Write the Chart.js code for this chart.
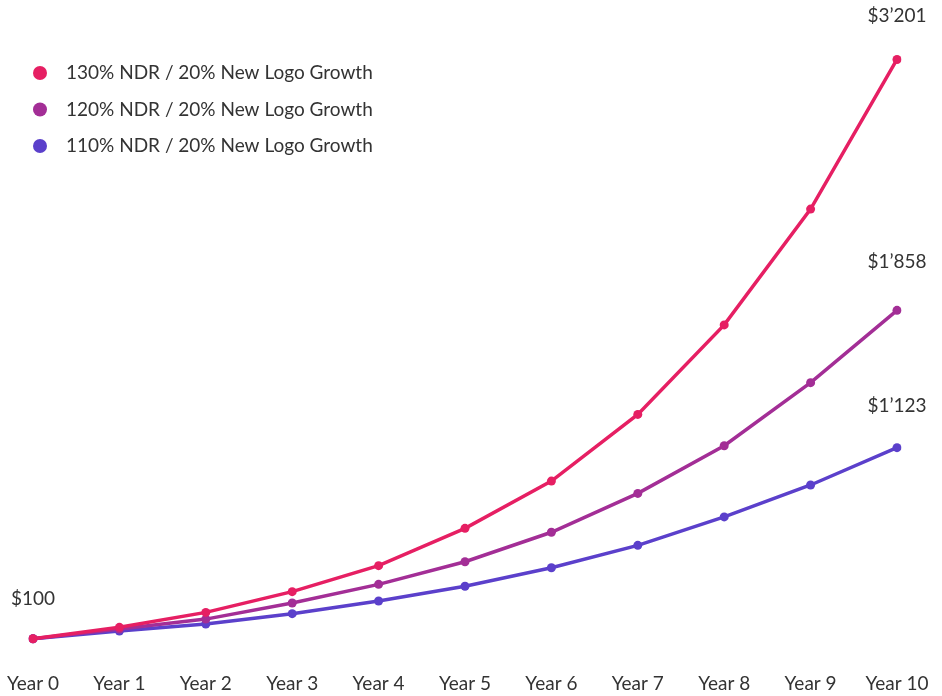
<!DOCTYPE html>
<html>
<head>
<meta charset="utf-8">
<script src="https://cdn.jsdelivr.net/npm/chart.js@4"></script>
<style>
  html, body { margin: 0; padding: 0; background: #ffffff; }
  #wrap { width: 942px; height: 696px; position: relative; }
</style>
</head>
<body>
<div id="wrap"><canvas id="c" width="942" height="696"></canvas></div>
<script>
// Revenue growth scenarios, indexed to $100 in Year 0
const years = ['Year 0', 'Year 1', 'Year 2', 'Year 3', 'Year 4', 'Year 5', 'Year 6', 'Year 7', 'Year 8', 'Year 9', 'Year 10'];
const seriesNames = [
  '130% NDR / 20% New Logo Growth',
  '120% NDR / 20% New Logo Growth',
  '110% NDR / 20% New Logo Growth'
];
const ndr130 = [100, 161, 241, 352, 491, 691, 944, 1301, 1780, 2400, 3201];
const ndr120 = [100, 152, 205, 291, 391, 512, 670, 878, 1133, 1471, 1858];
const ndr110 = [100, 141, 179, 234, 302, 381, 480, 600, 752, 923, 1123];

const colors = ['#E61F63', '#A32E96', '#5B40CB'];
const FONT = 'Lato, "Open Sans", sans-serif';
const TEXT = '#333333';

const fmt = v => '$' + String(v).replace(/\B(?=(\d{3})+(?!\d))/g, '\u2019');

// Draws the start and end value labels above the points
const valueLabels = {
  id: 'valueLabels',
  afterDatasetsDraw(chart, args, opts) {
    const ctx = chart.ctx;
    ctx.save();
    ctx.font = '19px ' + FONT;
    ctx.fillStyle = TEXT;
    ctx.textAlign = 'center';
    ctx.textBaseline = 'middle';
    chart.data.datasets.forEach((ds, i) => {
      const meta = chart.getDatasetMeta(i);
      const last = meta.data[meta.data.length - 1];
      ctx.fillText(fmt(ds.data[ds.data.length - 1]), last.x, last.y - opts.endOffsets[i]);
    });
    const first = chart.getDatasetMeta(0).data[0];
    ctx.fillText(fmt(chart.data.datasets[0].data[0]), first.x, first.y - opts.startOffset);
    ctx.restore();
  }
};

// Vertical legend at the top left
const sideLegend = {
  id: 'sideLegend',
  afterDraw(chart, args, opts) {
    const ctx = chart.ctx;
    ctx.save();
    ctx.font = '19px ' + FONT;
    ctx.textBaseline = 'middle';
    ctx.textAlign = 'left';
    chart.data.datasets.forEach((ds, i) => {
      const y = opts.y + i * opts.step;
      ctx.beginPath();
      ctx.arc(opts.x, y, 7, 0, Math.PI * 2);
      ctx.fillStyle = ds.borderColor;
      ctx.fill();
      ctx.fillStyle = TEXT;
      ctx.fillText(ds.label, opts.x + 26, y);
    });
    ctx.restore();
  }
};

const series = [ndr130, ndr120, ndr110];

new Chart(document.getElementById('c'), {
  type: 'line',
  data: {
    labels: years,
    datasets: series.map((d, i) => ({
      label: seriesNames[i],
      data: d,
      borderColor: colors[i],
      backgroundColor: colors[i],
      borderWidth: 3.5,
      pointRadius: 4.5,
      pointHoverRadius: 4.5,
      pointBorderWidth: 0,
      tension: 0,
      fill: false
    }))
  },
  options: {
    responsive: false,
    animation: false,
    events: [],
    layout: { padding: { top: 22.3, left: 33, right: 45, bottom: 0 } },
    plugins: {
      legend: { display: false },
      tooltip: { enabled: false },
      valueLabels: { endOffsets: [44, 48, 42], startOffset: 40 },
      sideLegend: { x: 40, y: 73, step: 36.5 }
    },
    scales: {
      x: {
        offset: false,
        grid: { display: false, drawTicks: false },
        border: { display: false },
        ticks: { color: TEXT, font: { family: FONT, size: 19 }, padding: 15, maxRotation: 0, autoSkip: false },
        afterFit(scale) {
          scale.height = 38.6;
          scale.paddingLeft = 0;
          scale.paddingRight = 0;
        }
      },
      y: {
        display: false,
        min: 0,
        max: 3400
      }
    }
  },
  plugins: [valueLabels, sideLegend]
});
</script>
</body>
</html>
